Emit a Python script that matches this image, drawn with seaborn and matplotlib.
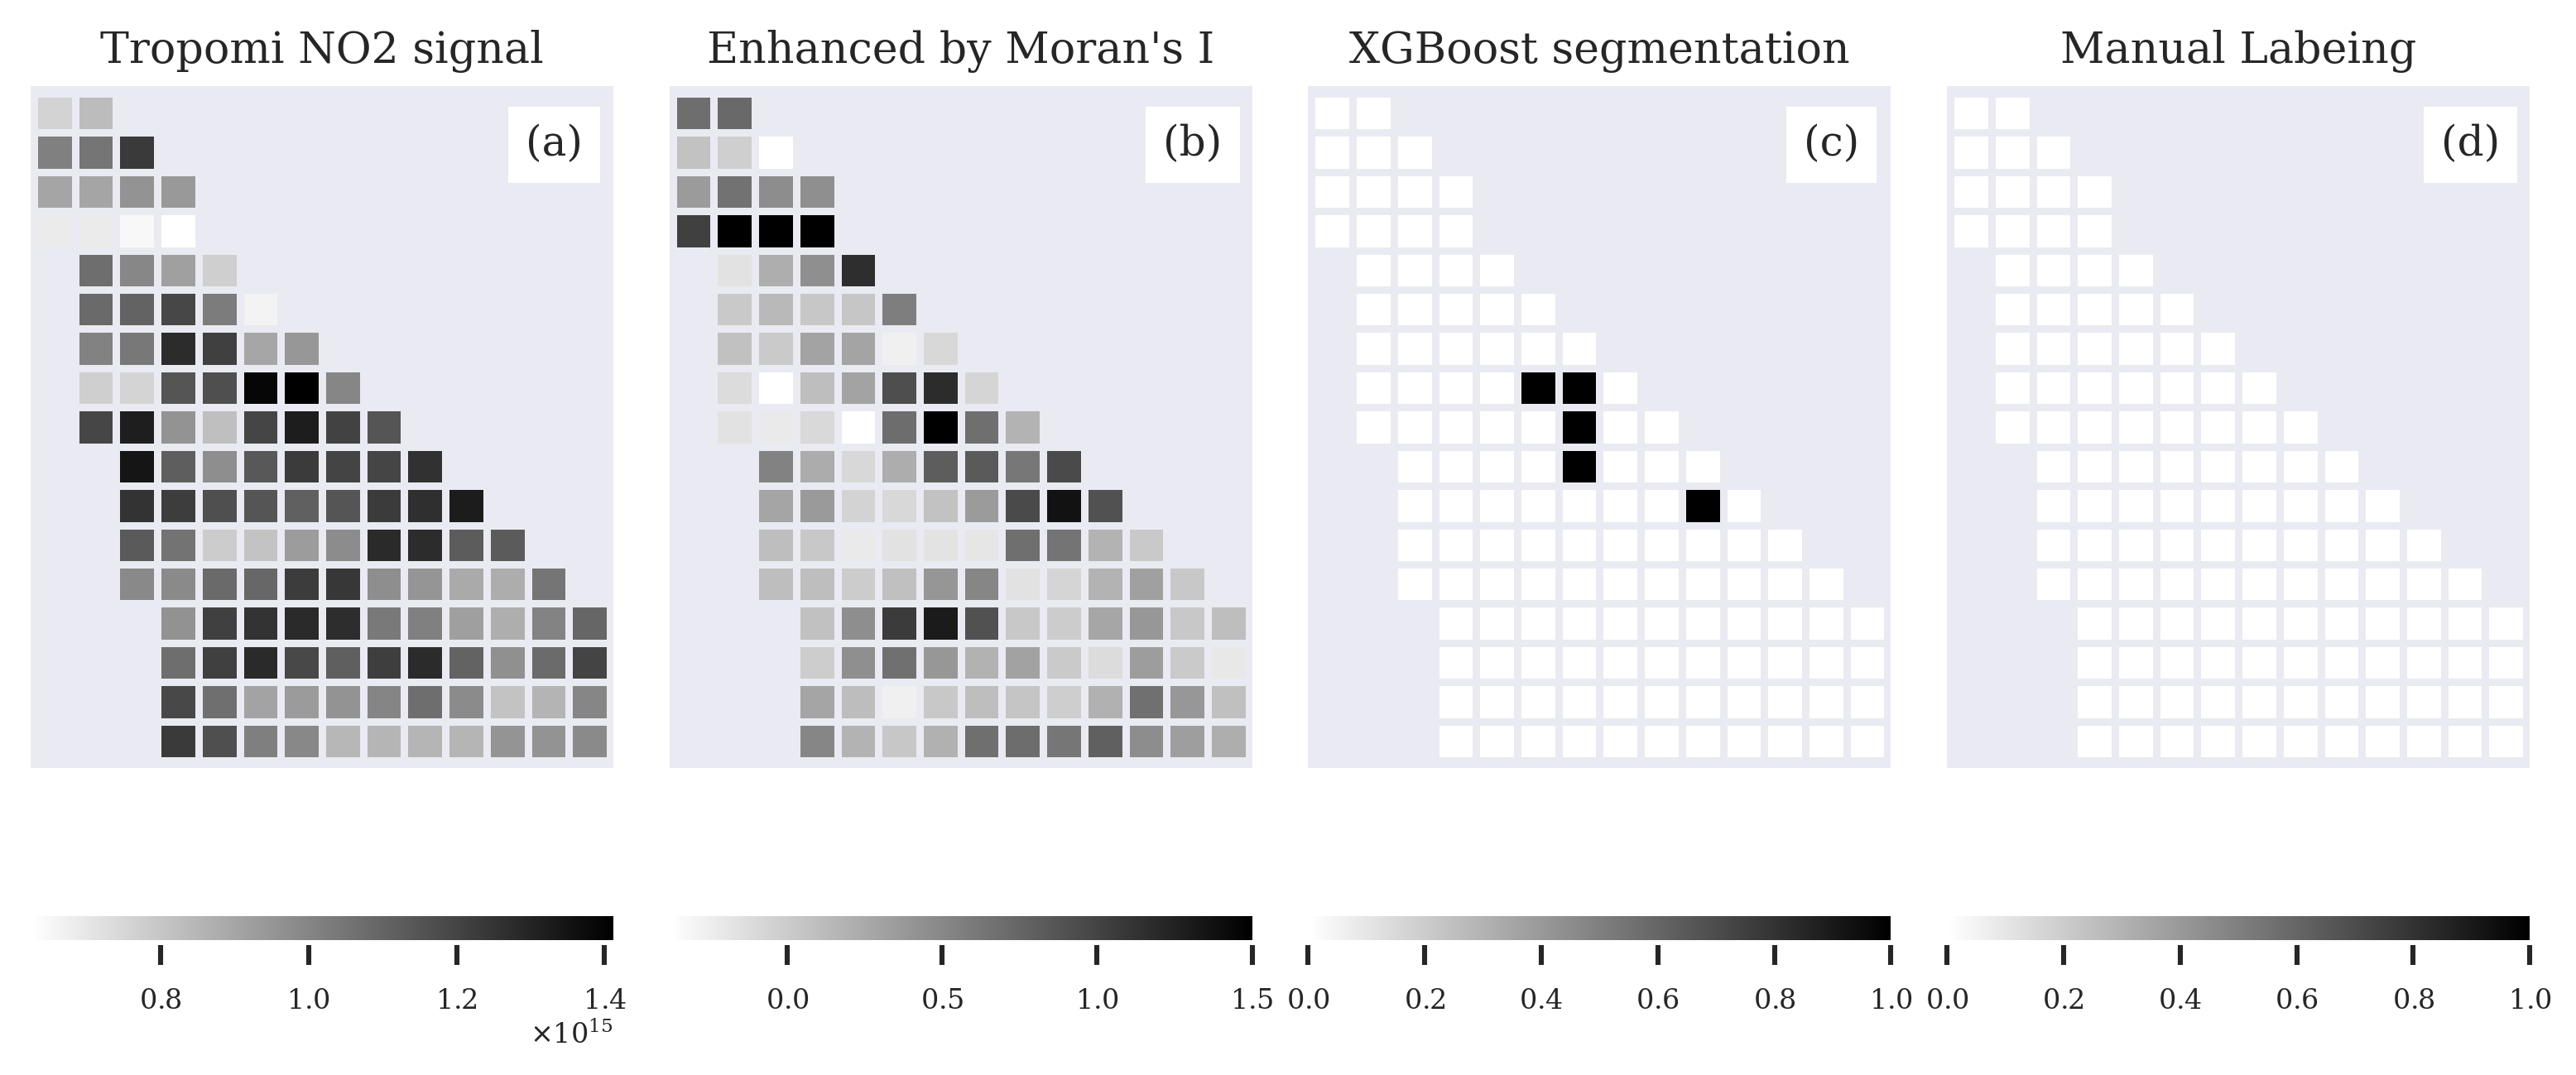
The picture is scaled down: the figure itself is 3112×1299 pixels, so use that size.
import numpy as np
import pandas as pd
import seaborn as sns
import matplotlib.pyplot as plt

sns.set_theme(style='darkgrid', font='serif')
plt.rcParams['axes.formatter.use_mathtext'] = True

# Grid layout: first column of the study region in each of the 17 rows (14 columns wide)
n_cols = 14
row_start = [0, 0, 0, 0, 1, 1, 1, 1, 1, 2, 2, 2, 2, 3, 3, 3, 3]

# (a) Tropomi NO2 signal, in units of 1e15
no2_rows = [
    [0.760, 0.831],
    [1.016, 1.050, 1.233],
    [0.902, 0.902, 0.958, 0.939],
    [0.686, 0.686, 0.646, 0.624],
    [1.072, 0.995, 0.918, 0.772],
    [1.084, 1.106, 1.193, 1.029, 0.661],
    [1.010, 1.041, 1.276, 1.214, 0.899, 0.945],
    [0.772, 0.757, 1.149, 1.168, 1.393, 1.412, 0.998],
    [1.196, 1.319, 0.958, 0.822, 1.199, 1.322, 1.208, 1.149],
    [1.347, 1.122, 0.973, 1.140, 1.230, 1.202, 1.199, 1.261],
    [1.254, 1.224, 1.168, 1.149, 1.115, 1.149, 1.230, 1.267, 1.325],
    [1.134, 1.057, 0.782, 0.809, 0.930, 0.979, 1.282, 1.276, 1.128, 1.131],
    [0.989, 0.986, 1.084, 1.094, 1.227, 1.242, 0.973, 0.952, 0.887, 0.877, 1.050],
    [0.961, 1.214, 1.254, 1.282, 1.273, 1.038, 1.016, 0.921, 0.874, 1.007, 1.097],
    [1.072, 1.214, 1.282, 1.190, 1.118, 1.220, 1.279, 1.106, 0.967, 1.081, 1.202],
    [1.190, 1.069, 0.908, 0.933, 0.958, 1.001, 1.072, 0.982, 0.809, 0.856, 0.998],
    [1.233, 1.168, 1.020, 0.992, 0.847, 0.853, 0.853, 0.853, 0.955, 0.958, 0.986],
]

# (b) signal enhanced by local Moran's I
moran_rows = [
    [0.689, 0.726],
    [0.070, -0.026, -0.380],
    [0.358, 0.660, 0.461, 0.446],
    [1.028, 1.500, 1.500, 1.500],
    [-0.166, 0.218, 0.446, 1.161],
    [0.019, 0.137, 0.033, 0.041, 0.571],
    [0.078, 0.011, 0.299, 0.291, -0.269, -0.092],
    [-0.121, -0.380, 0.100, 0.299, 0.925, 1.176, -0.070],
    [-0.166, -0.225, -0.099, -0.380, 0.697, 1.500, 0.682, 0.181],
    [0.542, 0.232, -0.092, 0.225, 0.815, 0.837, 0.623, 0.955],
    [0.284, 0.365, -0.055, -0.092, 0.070, 0.358, 0.955, 1.367, 0.903],
    [0.100, 0.026, -0.225, -0.166, -0.173, -0.195, 0.682, 0.645, 0.181, 0.019],
    [0.100, 0.100, -0.003, 0.085, 0.394, 0.512, -0.166, -0.070, 0.181, 0.321, 0.026],
    [0.078, 0.453, 1.065, 1.301, 0.903, 0.026, -0.003, 0.277, 0.387, 0.026, 0.100],
    [-0.011, 0.446, 0.675, 0.387, 0.188, 0.306, 0.011, -0.121, 0.343, 0.011, -0.210],
    [0.284, 0.107, -0.269, 0.026, 0.100, 0.048, -0.018, 0.196, 0.675, 0.387, 0.085],
    [0.512, 0.181, 0.033, 0.196, 0.682, 0.697, 0.630, 0.792, 0.461, 0.336, 0.218],
]

# (c) XGBoost segmentation (1 = plume)
xgb_rows = [
    [0, 0],
    [0, 0, 0],
    [0, 0, 0, 0],
    [0, 0, 0, 0],
    [0, 0, 0, 0],
    [0, 0, 0, 0, 0],
    [0, 0, 0, 0, 0, 0],
    [0, 0, 0, 0, 1, 1, 0],
    [0, 0, 0, 0, 0, 1, 0, 0],
    [0, 0, 0, 0, 1, 0, 0, 0],
    [0, 0, 0, 0, 0, 0, 0, 1, 0],
    [0, 0, 0, 0, 0, 0, 0, 0, 0, 0],
    [0, 0, 0, 0, 0, 0, 0, 0, 0, 0, 0],
    [0, 0, 0, 0, 0, 0, 0, 0, 0, 0, 0],
    [0, 0, 0, 0, 0, 0, 0, 0, 0, 0, 0],
    [0, 0, 0, 0, 0, 0, 0, 0, 0, 0, 0],
    [0, 0, 0, 0, 0, 0, 0, 0, 0, 0, 0],
]

# (d) manual labelling
manual_rows = [
    [0, 0],
    [0, 0, 0],
    [0, 0, 0, 0],
    [0, 0, 0, 0],
    [0, 0, 0, 0],
    [0, 0, 0, 0, 0],
    [0, 0, 0, 0, 0, 0],
    [0, 0, 0, 0, 0, 0, 0],
    [0, 0, 0, 0, 0, 0, 0, 0],
    [0, 0, 0, 0, 0, 0, 0, 0],
    [0, 0, 0, 0, 0, 0, 0, 0, 0],
    [0, 0, 0, 0, 0, 0, 0, 0, 0, 0],
    [0, 0, 0, 0, 0, 0, 0, 0, 0, 0, 0],
    [0, 0, 0, 0, 0, 0, 0, 0, 0, 0, 0],
    [0, 0, 0, 0, 0, 0, 0, 0, 0, 0, 0],
    [0, 0, 0, 0, 0, 0, 0, 0, 0, 0, 0],
    [0, 0, 0, 0, 0, 0, 0, 0, 0, 0, 0],
]

titles = ['Tropomi NO2 signal', "Enhanced by Moran's I", 'XGBoost segmentation', 'Manual Labeing']
panel_tags = ['(a)', '(b)', '(c)', '(d)']
cbar_ticks = [
    [0.8e15, 1.0e15, 1.2e15, 1.4e15],
    [0.0, 0.5, 1.0, 1.5],
    [0.0, 0.2, 0.4, 0.6, 0.8, 1.0],
    [0.0, 0.2, 0.4, 0.6, 0.8, 1.0],
]
limits = [(None, None), (None, None), (0, 1), (0, 1)]


def to_grid(rows, scale=1.0):
    grid = np.full((len(rows), n_cols), np.nan)
    for i, vals in enumerate(rows):
        grid[i, row_start[i]:row_start[i] + len(vals)] = np.array(vals, dtype=float) * scale
    return pd.DataFrame(grid)


grids = [to_grid(no2_rows, 1e15), to_grid(moran_rows), to_grid(xgb_rows), to_grid(manual_rows)]

fig = plt.figure(figsize=(15.56, 6.495), dpi=200)
W, H = 3112, 1299
bg = '#EAEAF2'

for k in range(4):
    x0 = 37 + k * 771.7
    ax = fig.add_axes([x0 / W, 1 - 928 / H, 704 / W, 824 / H])
    cax = fig.add_axes([x0 / W, 1 - 1142 / H, 704 / W, 35 / H])
    vmin, vmax = limits[k]
    sns.heatmap(grids[k], ax=ax, cbar_ax=cax, cmap='gray_r', vmin=vmin, vmax=vmax,
                linewidths=3.2, linecolor=bg, xticklabels=False, yticklabels=False,
                cbar_kws={'orientation': 'horizontal'})
    ax.set_xlim(-0.08, n_cols + 0.08)
    ax.set_ylim(len(row_start) + 0.19, -0.19)
    ax.set_title(titles[k], fontsize=18.8, color='.15', pad=10)
    ax.text(0.898, 0.914, panel_tags[k], transform=ax.transAxes, ha='center', va='center',
            fontsize=18, color='.15', zorder=10,
            bbox=dict(facecolor='white', edgecolor='none', pad=7.5))

    cbar = ax.collections[0].colorbar
    cbar.set_ticks(cbar_ticks[k])
    cax.set_ylim(-0.2, 1)
    cax.set_facecolor('white')
    cax.grid(False)
    cax.tick_params(axis='x', bottom=True, direction='out', length=8.6, width=2.2,
                    color='.15', pad=10, labelsize=12, labelcolor='.15')
    cax.xaxis.get_offset_text().set_fontsize(12)

fig.savefig('out.png', dpi=200)
